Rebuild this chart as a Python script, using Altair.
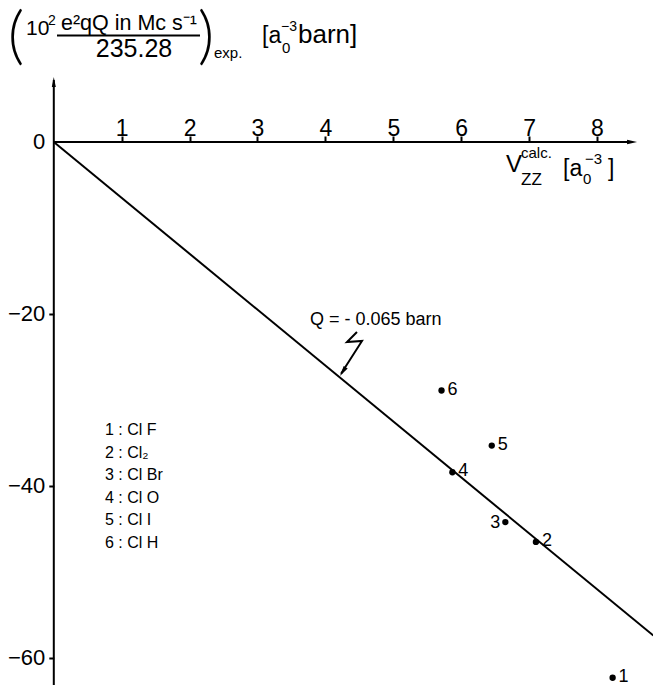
import altair as alt
import pandas as pd

# Chlorine compounds: calculated field gradient V_zz (a0^-3) against the
# experimental coupling quantity 10^2 e^2qQ / 235.28 (a0^-3 barn)
ids = [1, 2, 3, 4, 5, 6]
molecules = ["Cl F", "Cl₂", "Cl Br", "Cl O", "Cl I", "Cl H"]
vzz_calc = [8.23, 7.10, 6.65, 5.87, 6.45, 5.71]
coupling_exp = [-62.3, -46.5, -44.2, -38.4, -35.3, -28.9]

# quadrupole moment of the straight line (barn)
Q_BARN = -0.065
line_vzz = [0.0, 8.83]

x_ticks = [1, 2, 3, 4, 5, 6, 7, 8]
y_ticks = [0, -20, -40, -60]

FONT = "Liberation Sans"
INK = "black"

xs = alt.Scale(domain=[-0.7923, 8.8247], nice=False, zero=False)
ys = alt.Scale(domain=[-63.14, 16.51], nice=False, zero=False)

x_axis = alt.Axis(
    orient="top", offset=-142, values=x_ticks, title=None, domain=False,
    grid=False, tickSize=6, tickWidth=2, tickColor=INK, labelColor=INK,
    labelFont=FONT, labelFontSize=23, labelPadding=1,
    labelBaseline="alphabetic", labelAngle=0,
)
y_axis = alt.Axis(
    orient="left", offset=-53.8, values=y_ticks, title=None, domain=False,
    grid=False, tickSize=5, tickWidth=2, tickColor=INK, labelColor=INK,
    labelFont=FONT, labelFontSize=22, labelPadding=4,
    tickOpacity={"condition": {"test": "datum.value === 0", "value": 0}, "value": 1},
)


def X(field):
    return alt.X(field, type="quantitative", scale=xs, axis=x_axis)


def Y(field):
    return alt.Y(field, type="quantitative", scale=ys, axis=y_axis)


def XD(v):
    return alt.XDatum(v, type="quantitative", scale=xs, axis=x_axis)


def YD(v):
    return alt.YDatum(v, type="quantitative", scale=ys, axis=y_axis)


one = pd.DataFrame({"k": [0]})


def label(s, x, y, size, align="left", font=FONT, weight="normal"):
    return (
        alt.Chart(one)
        .mark_text(text=s, align=align, baseline="alphabetic", font=font,
                   fontSize=size, fontWeight=weight, color=INK)
        .encode(x=alt.value(x), y=alt.value(y))
    )


points = pd.DataFrame({"id": ids, "molecule": molecules,
                       "vzz": vzz_calc, "coupling": coupling_exp})
fit = pd.DataFrame({"vzz": line_vzz,
                    "coupling": [100 * Q_BARN * v for v in line_vzz]})

# axis lines with arrow heads
x_line = alt.Chart(one).mark_rule(color=INK, strokeWidth=2).encode(
    x=XD(0), x2=alt.X2Datum(8.5), y=YD(0))
y_line = alt.Chart(one).mark_rule(color=INK, strokeWidth=2).encode(
    x=XD(0), y=YD(-63.14), y2=alt.Y2Datum(7.2))
x_head = alt.Chart(one).mark_point(
    shape="M0,0L-2,-0.45L-2,0.45Z", filled=True, size=100, color=INK, opacity=1
).encode(x=XD(8.59), y=YD(0))
y_head = alt.Chart(one).mark_point(
    shape="M0,0L0.4,2L-0.4,2Z", filled=True, size=100, color=INK, opacity=1
).encode(x=XD(0), y=YD(7.56))

line = alt.Chart(fit).mark_line(color=INK, strokeWidth=2, clip=True).encode(
    x=X("vzz"), y=Y("coupling"))

dots = alt.Chart(points).mark_point(
    shape="circle", filled=True, size=40, color=INK, opacity=1
).encode(x=X("vzz"), y=Y("coupling"))

num_right = alt.Chart(points).transform_filter("datum.id != 3").mark_text(
    align="left", baseline="middle", dx=6, dy=-1, font=FONT, fontSize=18, color=INK
).encode(x=X("vzz"), y=Y("coupling"), text="id:N")
num_left = alt.Chart(points).transform_filter("datum.id == 3").mark_text(
    align="right", baseline="middle", dx=-5, dy=1, font=FONT, fontSize=18, color=INK
).encode(x=X("vzz"), y=Y("coupling"), text="id:N")

# squiggly pointer from the Q label to the line
squiggle_path = pd.DataFrame({
    "vzz": [4.465, 4.318, 4.539, 4.230],
    "coupling": [-22.09, -23.26, -23.14, -26.95],
    "o": [0, 1, 2, 3],
})
squiggle = alt.Chart(squiggle_path).mark_line(color=INK, strokeWidth=2).encode(
    x=X("vzz"), y=Y("coupling"), order="o:Q")
squiggle_head = alt.Chart(one).mark_point(
    shape="M0,0L0.5,2.2L-0.5,2.2Z", filled=True, size=90, angle=213,
    color=INK, opacity=1
).encode(x=XD(4.215), y=YD(-27.21))

legend_lines = [f"{i} : {m}" for i, m in zip(ids, molecules)]
legend = (
    alt.Chart(one)
    .mark_text(text=legend_lines, align="left", baseline="alphabetic",
               lineHeight=22.5, font=FONT, fontSize=16, color=INK)
    .encode(x=alt.value(105), y=alt.value(435))
)

texts = [
    label("Q = - 0.065 barn", 310, 325, 18),
    # y-axis quantity
    label("(", 16, 57, 64, align="center", font="Lato", weight=300),
    label("10", 26, 35, 21),
    label("2", 48, 25, 14),
    label("e²qQ in Mc s⁻¹", 129, 30, 21.5, align="center"),
    label("235.28", 134, 57, 25, align="center"),
    label(")", 206, 57, 64, align="center", font="Lato", weight=300),
    label("exp.", 214, 58, 15),
    label("[a", 262, 43, 23),
    label("0", 282, 53, 15),
    label("−3", 281, 31, 14),
    label("barn]", 298, 43, 26),
    # x-axis quantity
    label("V", 506, 172, 24),
    label("calc.", 521, 158, 15),
    label("ZZ", 521, 185, 17),
    label("[a", 563, 176, 23),
    label("0", 583, 184, 15),
    label("−3", 585, 164, 15),
    label("]", 608, 176, 23),
]

frac_bar = alt.Chart(one).mark_rule(color=INK, strokeWidth=2).encode(
    x=alt.value(57), x2=alt.value(200), y=alt.value(35.5))

chart = (
    alt.layer(x_line, y_line, x_head, y_head, line, dots, num_right, num_left,
              squiggle, squiggle_head, legend, frac_bar, *texts)
    .properties(width=653, height=685, padding=0, background="white",
                autosize=alt.AutoSizeParams(type="none"))
    .configure_view(stroke=None)
)

chart.save("out.html", embed_options={"renderer": "svg", "actions": False})
